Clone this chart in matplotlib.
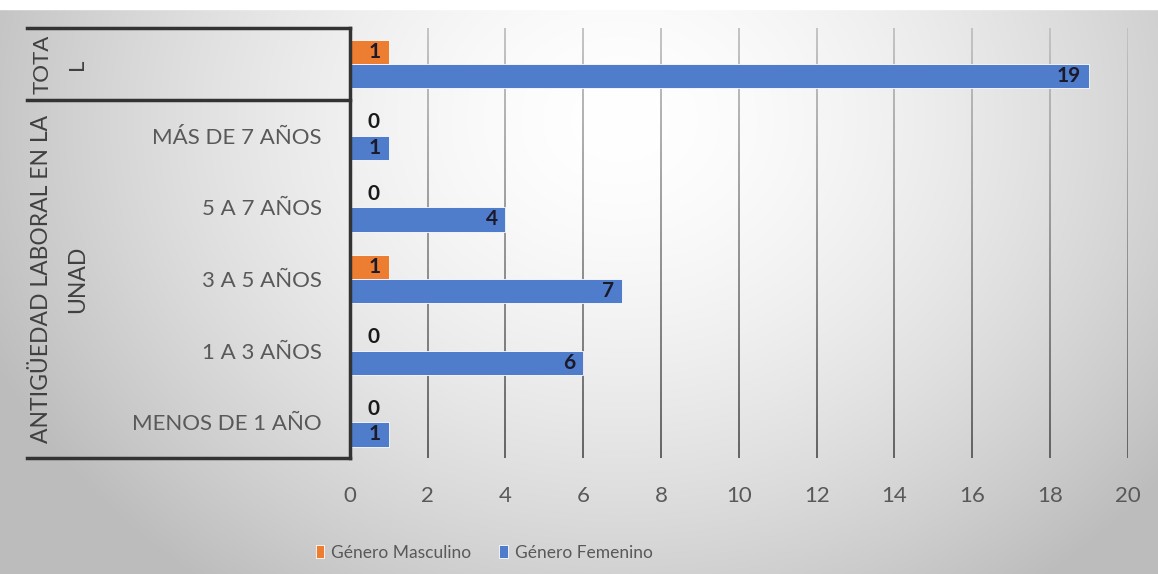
import numpy as np
import matplotlib.pyplot as plt
from matplotlib.collections import LineCollection

plt.rcParams['font.family'] = ['Lato', 'DejaVu Sans']

categories = ['MENOS DE 1 AÑO', '1 A 3 AÑOS', '3 A 5 AÑOS', '5 A 7 AÑOS', 'MÁS DE 7 AÑOS', '']
masculino = [0, 0, 1, 0, 0, 1]
femenino = [1, 6, 7, 4, 1, 19]
series_names = ['Género Masculino', 'Género Femenino']
xticks = list(range(0, 21, 2))

orange = '#ED7D31'
blue = '#4F7DCB'
text_gray = '#595959'

fig = plt.figure(figsize=(11.58, 5.74), dpi=100)

# gradient background
bg = fig.add_axes([0, 0, 1, 1], zorder=-5)
h, w = 574, 1158
yy, xx = np.mgrid[0:h, 0:w]
d = np.sqrt(((xx - 620) / 620.0) ** 2 + ((yy - 120) / 520.0) ** 2)
g = 1.0 - 0.22 * np.clip(d, 0, 1.3) ** 1.6
g = np.clip(g, 0.74, 1.0)
bg.imshow(np.dstack([g, g, g]), aspect='auto', extent=[0, 1, 0, 1])
bg.fill_between([0, 1], 0.985, 1, color='white')
bg.set_xlim(0, 1)
bg.set_ylim(0, 1)
bg.axis('off')

ax = fig.add_axes([0.302, 0.202, 0.672, 0.749])
ax.set_facecolor('none')

y = np.arange(len(categories))
bh = 0.34
ax.barh(y + bh / 2, masculino, height=bh, color=orange, edgecolor='white', linewidth=0.6,
        label=series_names[0], zorder=3)
ax.barh(y - bh / 2, femenino, height=bh, color=blue, edgecolor='white', linewidth=0.6,
        label=series_names[1], zorder=3)

for vals, off in ((masculino, bh / 2), (femenino, -bh / 2)):
    for i, v in enumerate(vals):
        if v == 0:
            ax.text(0.45, i + off + 0.02, '0', ha='left', va='center', fontsize=15,
                    fontweight='bold', color='#1a1a1a', zorder=4)
        else:
            ax.text(v - 0.2, i + off, str(v), ha='right', va='center', fontsize=15,
                    fontweight='bold', color='#1a1a2a', zorder=4)

ax.set_xlim(0, 20)
ax.set_ylim(-0.5, len(categories) - 0.5)
ax.set_xticks(xticks)
ax.set_yticks(y)
ax.set_yticklabels(categories)
ax.tick_params(axis='both', length=0, labelsize=16, labelcolor=text_gray)
ax.tick_params(axis='x', pad=20)
ax.tick_params(axis='y', pad=20)
for s in ax.spines.values():
    s.set_visible(False)

# vertical gridlines, lighter at the top
ys = np.linspace(-0.5, len(categories) - 0.5, 60)
segs, cols = [], []
for xt in xticks[1:]:
    for k in range(len(ys) - 1):
        segs.append([(xt, ys[k]), (xt, ys[k + 1])])
        f = k / (len(ys) - 2)
        c = 0.35 + 0.4 * f
        cols.append((c, c, c))
ax.add_collection(LineCollection(segs, colors=cols, linewidths=1.3, zorder=0))

# multi-level category box
tr = ax.get_yaxis_transform()
left = -0.415
lc = '#333333'
for yv in (len(categories) - 0.5, 4.5, -0.5):
    ax.plot([left, 0], [yv, yv], color=lc, lw=2.5, transform=tr, clip_on=False, zorder=5)
ax.plot([0, 0], [-0.5, len(categories) - 0.5], color=lc, lw=2.5, transform=tr,
        clip_on=False, zorder=5)
ax.text(-0.373, 5.0, 'TOTA\nL', rotation=90, ha='center', va='center', multialignment='center',
        fontsize=16, color='#404040', transform=tr, linespacing=1.9)
ax.text(-0.373, 2.0, 'ANTIGÜEDAD LABORAL EN LA\nUNAD', rotation=90, ha='center', va='center',
        multialignment='center', fontsize=16.5, color='#404040', transform=tr, linespacing=1.9)

leg = fig.legend(loc='center', bbox_to_anchor=(0.418, 0.037), ncol=2, frameon=False,
                 fontsize=12.5, handlelength=0.5, handleheight=0.8, handletextpad=0.4,
                 columnspacing=1.6)
for t in leg.get_texts():
    t.set_color(text_gray)

fig.savefig('out.png', dpi=100)
